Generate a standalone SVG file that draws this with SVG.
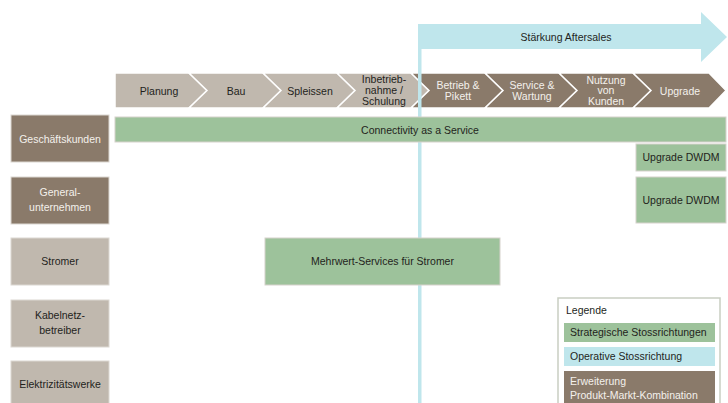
<svg xmlns="http://www.w3.org/2000/svg" width="728" height="403" viewBox="0 0 728 403">
  <style>
    text { font-family: "Liberation Sans", Arial, sans-serif; font-size: 10.5px; text-anchor: middle; }
    .dk { fill: #231f1c; }
    .lt { fill: #f4f1ec; }
    .tan { fill: #c0b8ae; }
    .brown { fill: #8a7a6a; }
    .chev { stroke: #ffffff; stroke-width: 1.5; stroke-linejoin: miter; }
    .seg { stroke: #dcd8d2; stroke-width: 1; }
    .green { fill: #9dc29b; stroke: #d6d2cc; stroke-width: 1; }
    .blue { fill: #bfe6ec; }
    .lg { text-anchor: start; }
  </style>

  <!-- value chain chevrons -->
  <g id="value-chain">
    <g id="phase-planung">
      <path class="chev tan" d="M115,73 H189 L207,90.5 L189,108 H115 Z"/>
      <text class="dk" x="159" y="94.5">Planung</text>
    </g>
    <g id="phase-bau">
      <path class="chev tan" d="M189,73 H263 L281,90.5 L263,108 H189 L207,90.5 Z"/>
      <text class="dk" x="236" y="94.5">Bau</text>
    </g>
    <g id="phase-spleissen">
      <path class="chev tan" d="M263,73 H337 L355,90.5 L337,108 H263 L281,90.5 Z"/>
      <text class="dk" x="310" y="94.5">Spleissen</text>
    </g>
    <g id="phase-inbetriebnahme">
      <path class="chev tan" d="M337,73 H411 L429,90.5 L411,108 H337 L355,90.5 Z"/>
      <text class="dk" x="384" y="83">Inbetrieb-</text>
      <text class="dk" x="384" y="93.8">nahme /</text>
      <text class="dk" x="384" y="104.5">Schulung</text>
    </g>
    <g id="phase-betrieb">
      <path class="chev brown" d="M411,73 H485 L503,90.5 L485,108 H411 L429,90.5 Z"/>
      <text class="lt" x="458" y="89">Betrieb &amp;</text>
      <text class="lt" x="458" y="100.3">Pikett</text>
    </g>
    <g id="phase-service">
      <path class="chev brown" d="M485,73 H559 L577,90.5 L559,108 H485 L503,90.5 Z"/>
      <text class="lt" x="532" y="89">Service &amp;</text>
      <text class="lt" x="532" y="100.3">Wartung</text>
    </g>
    <g id="phase-nutzung">
      <path class="chev brown" d="M559,73 H633 L651,90.5 L633,108 H559 L577,90.5 Z"/>
      <text class="lt" x="606" y="83.5">Nutzung</text>
      <text class="lt" x="606" y="94">von</text>
      <text class="lt" x="606" y="104.5">Kunden</text>
    </g>
    <g id="phase-upgrade">
      <path class="chev brown" d="M633,73 H709 L726,90.5 L709,108 H633 L651,90.5 Z"/>
      <text class="lt" x="680" y="94.5">Upgrade</text>
    </g>
  </g>

  <!-- operative thrust: arrow with its vertical marker line -->
  <g id="aftersales">
    <path class="blue" d="M418,24 H701 V12 L727,37 L701,62 V49 H421.5 V403 H418 Z"/>
    <text class="dk" x="566" y="40.5">Stärkung Aftersales</text>
  </g>

  <!-- customer segments -->
  <g id="segment-geschaeftskunden">
    <rect class="brown seg" x="11" y="115" width="98" height="47"/>
    <text class="lt" x="60" y="142.5">Geschäftskunden</text>
  </g>
  <g id="segment-generalunternehmen">
    <rect class="brown seg" x="11" y="177" width="98" height="47"/>
    <text class="lt" x="60" y="196">General-</text>
    <text class="lt" x="60" y="211">unternehmen</text>
  </g>
  <g id="segment-stromer">
    <rect class="tan seg" x="11" y="238" width="98" height="47"/>
    <text class="dk" x="60" y="265">Stromer</text>
  </g>
  <g id="segment-kabelnetzbetreiber">
    <rect class="tan seg" x="11" y="300" width="98" height="47"/>
    <text class="dk" x="60" y="319">Kabelnetz-</text>
    <text class="dk" x="60" y="334">betreiber</text>
  </g>
  <g id="segment-elektrizitaetswerke">
    <rect class="tan seg" x="11" y="361" width="98" height="47"/>
    <text class="dk" x="60" y="388">Elektrizitätswerke</text>
  </g>

  <!-- strategic thrusts -->
  <g id="thrust-connectivity">
    <rect class="green" x="115" y="117" width="611" height="25"/>
    <text class="dk" x="420" y="133.5">Connectivity as a Service</text>
  </g>
  <g id="thrust-dwdm-1">
    <rect class="green" x="636" y="144" width="90" height="27"/>
    <text class="dk" x="681" y="161">Upgrade DWDM</text>
  </g>
  <g id="thrust-dwdm-2">
    <rect class="green" x="636" y="177" width="90" height="46"/>
    <text class="dk" x="681" y="204">Upgrade DWDM</text>
  </g>
  <g id="thrust-mehrwert">
    <rect class="green" x="265" y="238" width="235" height="47"/>
    <text class="dk" x="382.5" y="265">Mehrwert-Services für Stromer</text>
  </g>

  <!-- legend -->
  <g id="legend">
    <rect x="558" y="298" width="162" height="112" fill="#ffffff" stroke="#c9cec2" stroke-width="1.5"/>
    <text class="dk lg" x="566" y="314">Legende</text>
    <rect x="564" y="323" width="151" height="19" fill="#9dc29b"/>
    <text class="dk lg" x="570" y="336">Strategische Stossrichtungen</text>
    <rect x="564" y="347" width="151" height="19" fill="#bfe6ec"/>
    <text class="dk lg" x="570" y="360">Operative Stossrichtung</text>
    <rect x="564" y="371" width="151" height="40" fill="#8a7a6a"/>
    <text class="lt lg" x="570" y="385">Erweiterung</text>
    <text class="lt lg" x="570" y="398.5">Produkt-Markt-Kombination</text>
  </g>
</svg>
